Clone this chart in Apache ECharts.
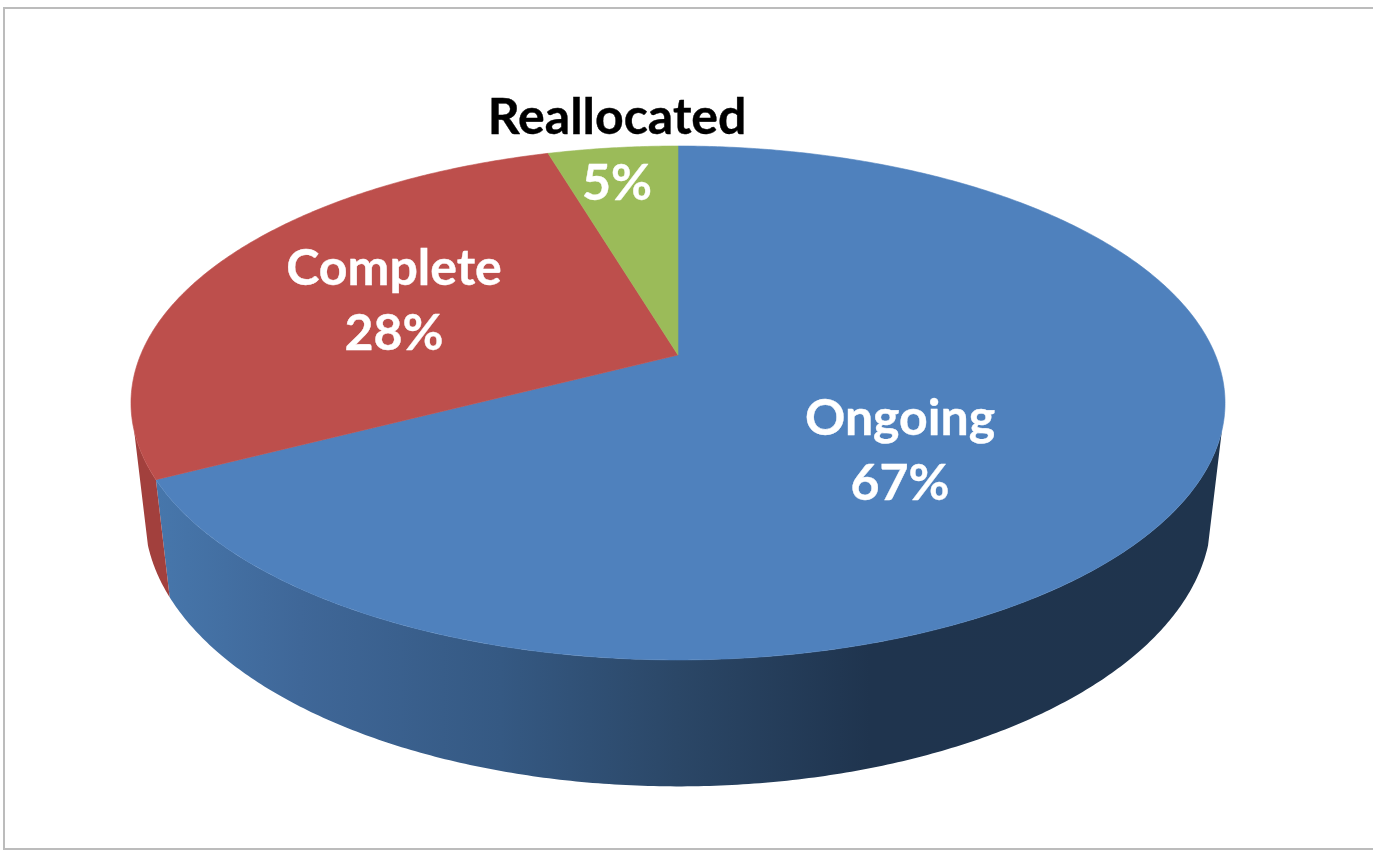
<!DOCTYPE html>
<html>
<head>
<meta charset="utf-8">
<style>html,body{margin:0;padding:0;background:#fff}#chart{width:1373px;height:850px}</style>
<script src="https://cdn.jsdelivr.net/npm/echarts@6/dist/echarts.min.js"></script>
</head>
<body>
<div id="chart"></div>
<script>
const categories = ['Ongoing', 'Complete', 'Reallocated'];
const values = [67.4, 28.0, 4.6];
const faceColors = ['#4F81BD', '#BD4F4C', '#9BBB59'];
const labelColors = ['#FFFFFF', '#FFFFFF', '#000000'];

// perspective model of the tilted disc
const CX = 678, CY = 355, A = 537.4, B = 248, K = 0.1867, DEPTH_Y = 113.5, DEPTH_W = 0.0247;
const VIS_START = 106.7, VIS_END = 253.3;
const total = values.reduce((s, v) => s + v, 0);

function startAngle(i) {
  let sum = 0;
  for (let k = 0; k < i; k++) sum += values[k];
  return sum / total * 360;
}
function project(deg, h) {
  const r = deg * Math.PI / 180, u = Math.sin(r), v = -Math.cos(r);
  const d = 1 - K * v + DEPTH_W * h;
  return [CX + A * u / d, CY + (B * v + DEPTH_Y * h) / d];
}
function arc(a, b, h) {
  const pts = [], n = Math.max(2, Math.ceil((b - a) * 2));
  for (let i = 0; i <= n; i++) pts.push(project(a + (b - a) * i / n, h));
  return pts;
}
const sideFill = [
  new echarts.graphic.LinearGradient(150, 0, 1225, 0, [
    {offset: 0, color: '#4777AC'}, {offset: 0.14, color: '#3F6798'},
    {offset: 0.326, color: '#355983'}, {offset: 0.49, color: '#2B4767'},
    {offset: 0.67, color: '#1F344E'}, {offset: 1, color: '#1F344D'}
  ], true),
  '#A2403D',
  '#7C9A45'
];
function renderSide(params) {
  const i = params.dataIndex;
  const a = Math.max(startAngle(i), VIS_START);
  const b = Math.min(startAngle(i + 1), VIS_END);
  if (b <= a) return {type: 'group', children: []};
  const pts = arc(a, b, 0).concat(arc(a, b, 1).reverse());
  return {type: 'polygon', shape: {points: pts},
    style: {fill: sideFill[i], stroke: null}};
}
const labelAt = [[900, 419, 484], [394, 269, 334], [617, 118, 184]];
function renderFace(params, api) {
  const i = params.dataIndex;
  const pts = [[CX, CY]].concat(arc(startAngle(i), startAngle(i + 1), 0));
  const font = 'bold 50px Lato, Carlito, "Open Sans", sans-serif';
  const at = labelAt[i];
  return {type: 'group', children: [
    {type: 'polygon', shape: {points: pts}, z2: 1,
      style: {fill: faceColors[i], stroke: faceColors[i], lineWidth: 0.6}},
    {type: 'text', z2: 10, x: at[0], y: at[1],
      style: {text: categories[i], fill: labelColors[i], stroke: labelColors[i], lineWidth: 0.4, lineJoin: 'round', font: font, align: 'center', verticalAlign: 'middle'}},
    {type: 'text', z2: 10, x: at[0], y: at[2],
      style: {text: Math.round(api.value(0)) + '%', fill: '#FFFFFF', stroke: '#FFFFFF', lineWidth: 0.4, lineJoin: 'round', font: font, align: 'center', verticalAlign: 'middle'}}
  ]};
}
const seriesData = values.map((v, i) => ({name: categories[i], value: v}));
const chart = echarts.init(document.getElementById('chart'), null, {renderer: 'canvas'});
chart.setOption({
  animation: false,
  backgroundColor: '#FFFFFF',
  graphic: [{type: 'rect', z: 0, silent: true,
    shape: {x: 4, y: 8, width: 1375, height: 841},
    style: {fill: 'none', stroke: '#BCBCBC', lineWidth: 2}}],
  series: [
    {type: 'custom', coordinateSystem: 'none', silent: true, z: 2, renderItem: renderSide, data: seriesData},
    {type: 'custom', coordinateSystem: 'none', silent: true, z: 3, renderItem: renderFace, data: seriesData}
  ]
});
</script>
</body>
</html>
